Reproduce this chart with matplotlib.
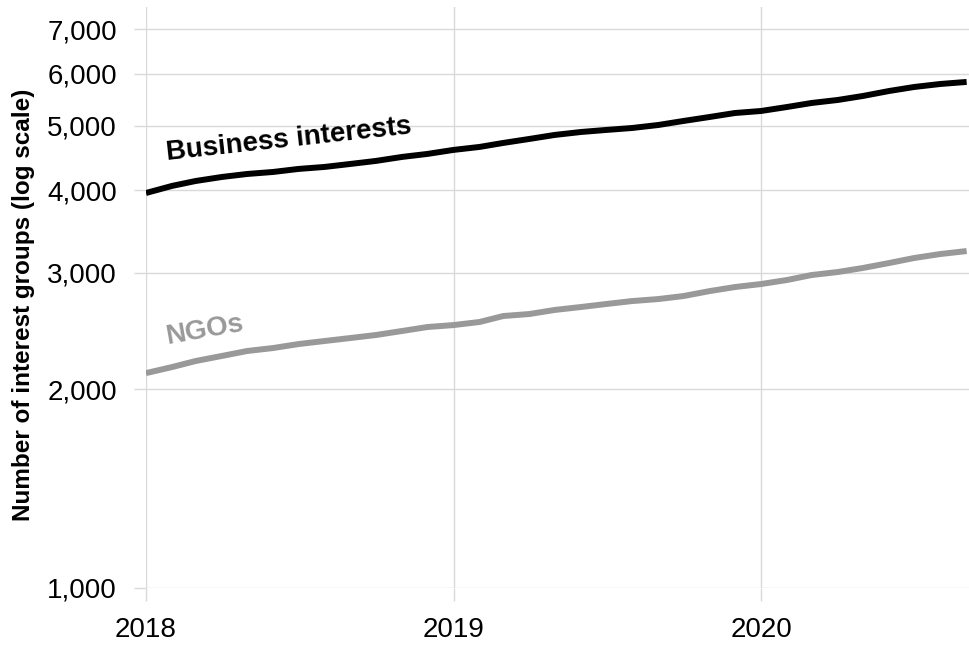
import matplotlib
matplotlib.use("Agg")
import matplotlib.pyplot as plt
import matplotlib.dates as mdates
import pandas as pd
from matplotlib.ticker import FixedLocator, FuncFormatter, NullLocator

plt.rcParams["font.family"] = ["Liberation Sans", "DejaVu Sans"]

GRID = "#d9d9d9"
BLACK = "#000000"
GREY = "#999999"

# monthly counts, Jan 2018 .. Sep 2020
months = pd.date_range("2018-01-01", periods=33, freq="MS")
business = [
    3959, 4058, 4128, 4186, 4230, 4260, 4305, 4335, 4381, 4427, 4489, 4536,
    4600, 4648, 4713, 4779, 4846, 4896, 4931, 4965, 5017, 5088, 5159, 5231,
    5268, 5342, 5417, 5474, 5551, 5648, 5728, 5788, 5829,
]
ngos = [
    2114, 2159, 2205, 2244, 2283, 2307, 2339, 2364, 2389, 2414, 2448, 2482,
    2499, 2526, 2579, 2597, 2634, 2661, 2689, 2717, 2736, 2765, 2813, 2853,
    2883, 2924, 2975, 3006, 3049, 3102, 3157, 3201, 3234,
]
y_ticks = [1000, 2000, 3000, 4000, 5000, 6000, 7000]
x_ticks = ["2018-01-01", "2019-01-01", "2020-01-01"]

fig = plt.figure(figsize=(9.7, 6.46), dpi=100)
ax = fig.add_axes([0.1505, 0.0898, 0.8495, 0.8995])

ax.plot(months, business, color=BLACK, lw=4.3, solid_capstyle="butt")
ax.plot(months, ngos, color=GREY, lw=4.3, solid_capstyle="butt")

ax.set_yscale("log")
ax.set_ylim(1000, 7570)
ax.set_xlim(pd.Timestamp("2018-01-01"), pd.Timestamp("2020-09-05"))

ax.yaxis.set_major_locator(FixedLocator(y_ticks))
ax.yaxis.set_minor_locator(NullLocator())
ax.yaxis.set_major_formatter(FuncFormatter(lambda v, _: f"{v:,.0f}"))
ax.xaxis.set_major_locator(FixedLocator([mdates.date2num(pd.Timestamp(d)) for d in x_ticks]))
ax.xaxis.set_major_formatter(mdates.DateFormatter("%Y"))

ax.grid(True, color=GRID, lw=1.0)
ax.set_axisbelow(True)
for s in ax.spines.values():
    s.set_visible(False)
ax.tick_params(axis="both", which="major", color=GRID, width=1.0, length=9,
               labelsize=20, labelcolor="#000000")
ax.tick_params(axis="y", pad=12)
ax.tick_params(axis="x", pad=12)

ax.set_ylabel("Number of interest groups (log scale)", fontsize=17.5,
              fontweight="bold", labelpad=9)
ax.yaxis.label.set_y(0.487)

# direct labels sitting just above each line
ax.text(pd.Timestamp("2018-01-26"), 4441, "Business interests", color=BLACK,
        fontsize=20, fontweight="bold", rotation=6.2, rotation_mode="anchor",
        ha="left", va="baseline")
ax.text(pd.Timestamp("2018-01-26"), 2339, "NGOs", color=GREY,
        fontsize=20, fontweight="bold", rotation=10, rotation_mode="anchor",
        ha="left", va="baseline")

fig.savefig("out.png", dpi=100, facecolor="white")
